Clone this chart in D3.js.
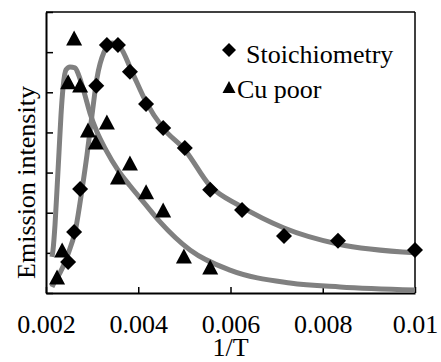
<!DOCTYPE html>
<html>
<head>
<meta charset="utf-8">
<script src="https://cdn.jsdelivr.net/npm/d3@7"></script>
<style>
  body { margin: 0; background: #fff; }
  svg text { font-family: "Liberation Serif", Tinos, "Times New Roman", Times, serif; fill: #000; }
</style>
</head>
<body>
<div id="chart"></div>
<script>
// measured points, x = 1/T
const stoichX = [0.00248, 0.00261, 0.00274, 0.00309, 0.00332, 0.00356, 0.00382, 0.00417, 0.00454, 0.00501, 0.00556, 0.00625, 0.00716, 0.00833, 0.01];
const stoichY = [0.77, 1.52, 2.59, 5.16, 6.18, 6.18, 5.51, 4.71, 4.11, 3.61, 2.57, 2.07, 1.42, 1.30, 1.07];

const cuPoorX = [0.00224, 0.00235, 0.00248, 0.00261, 0.00274, 0.00291, 0.00308, 0.00332, 0.00356, 0.00382, 0.00417, 0.00454, 0.00499, 0.00556];
const cuPoorY = [0.40, 1.07, 5.26, 6.35, 5.18, 4.06, 3.76, 4.26, 2.89, 3.24, 2.52, 2.07, 0.92, 0.65];

// fitted curves (grey lines)
const stoichFitX = [0.00213, 0.002195, 0.002304, 0.002455, 0.00265, 0.00278, 0.002889, 0.002997, 0.003106, 0.003257, 0.00343, 0.003604, 0.003864, 0.004168, 0.004537, 0.005014, 0.005556, 0.006206, 0.00716, 0.00833, 0.01];
const stoichFitY = [0.15, 0.30, 0.50, 0.90, 1.64, 2.57, 3.44, 4.43, 5.36, 6.00, 6.23, 6.13, 5.51, 4.76, 4.11, 3.56, 2.67, 2.17, 1.62, 1.22, 1.00];

const cuPoorFitX = [0.00213, 0.002152, 0.002195, 0.002238, 0.002282, 0.002325, 0.002369, 0.002434, 0.00252, 0.002629, 0.002715, 0.002824, 0.002954, 0.003106, 0.003301, 0.003561, 0.003821, 0.004146, 0.004472, 0.005122, 0.005989, 0.00729, 0.008374, 0.01];
const cuPoorFitY = [0.90, 1.07, 1.69, 2.57, 3.51, 4.43, 5.11, 5.56, 5.63, 5.61, 5.41, 5.01, 4.48, 4.01, 3.56, 3.06, 2.67, 2.22, 1.77, 1.07, 0.57, 0.25, 0.15, 0.075];

const xTicks = [0.002, 0.004, 0.006, 0.008, 0.01];
const xTickLabels = ["0.002", "0.004", "0.006", "0.008", "0.01"];
const yTicks = [0, 1, 2, 3, 4, 5, 6, 7];
const legendLabels = ["Stoichiometry", "Cu poor"];

const serif = '"Liberation Serif", Tinos, "Times New Roman", Times, serif';
const fontSize = 26;
const width = 441, height = 362;
const margin = { top: 12, right: 26, bottom: 69, left: 46 };

const svg = d3.select('#chart').append('svg')
  .attr('width', width)
  .attr('height', height);

const x = d3.scaleLinear().domain([0.002, 0.01]).range([margin.left, width - margin.right]);
const y = d3.scaleLinear().domain([0, 7]).range([height - margin.bottom, margin.top]);

// frame top / right
svg.append('line')
  .attr('x1', x(0.002)).attr('x2', x(0.01))
  .attr('y1', y(7)).attr('y2', y(7))
  .attr('stroke', '#000').attr('stroke-width', 1.5);
svg.append('line')
  .attr('x1', x(0.01)).attr('x2', x(0.01))
  .attr('y1', y(7)).attr('y2', y(0))
  .attr('stroke', '#000').attr('stroke-width', 1.5);

// axes
const xAxis = svg.append('g')
  .attr('transform', `translate(0,${y(0)})`)
  .call(d3.axisBottom(x)
    .tickValues(xTicks)
    .tickSizeInner(-6)
    .tickSizeOuter(0)
    .tickPadding(22)
    .tickFormat((d, i) => xTickLabels[i]));
xAxis.attr('font-family', serif).attr('font-size', fontSize);
xAxis.select('.domain').attr('stroke-width', 2);
xAxis.selectAll('.tick line').attr('stroke-width', 1.5);

const yAxis = svg.append('g')
  .attr('transform', `translate(${x(0.002)},0)`)
  .call(d3.axisLeft(y)
    .tickValues(yTicks)
    .tickSizeInner(-7)
    .tickSizeOuter(0)
    .tickFormat(''));
yAxis.select('.domain').attr('stroke-width', 2);
yAxis.selectAll('.tick line').attr('stroke-width', 1.5);

// axis titles
svg.append('text')
  .attr('x', x(0.006))
  .attr('y', 356)
  .attr('text-anchor', 'middle')
  .attr('font-family', serif)
  .attr('font-size', fontSize)
  .text('1/T');

svg.append('text')
  .attr('transform', `translate(35,${(85 + 280) / 2}) rotate(-90)`)
  .attr('text-anchor', 'middle')
  .attr('font-family', serif)
  .attr('font-size', fontSize)
  .text('Emission intensity');

// fitted curves
const line = d3.line()
  .x(d => x(d[0]))
  .y(d => y(d[1]))
  .curve(d3.curveMonotoneX);

const fits = [
  d3.zip(stoichFitX, stoichFitY),
  d3.zip(cuPoorFitX, cuPoorFitY)
];

svg.append('g').selectAll('path.fit')
  .data(fits)
  .enter().append('path')
  .attr('class', 'fit')
  .attr('d', line)
  .attr('fill', 'none')
  .attr('stroke', '#808080')
  .attr('stroke-width', 5);

// markers
const diamond = (r) => `M0,${-r}L${r},0L0,${r}L${-r},0Z`;
const triangle = (w, h) => `M0,${-h / 2}L${w / 2},${h / 2}L${-w / 2},${h / 2}Z`;

svg.append('g').selectAll('path.stoich')
  .data(d3.zip(stoichX, stoichY))
  .enter().append('path')
  .attr('class', 'stoich')
  .attr('transform', d => `translate(${x(d[0])},${y(d[1])})`)
  .attr('d', diamond(8))
  .attr('fill', '#000');

svg.append('g').selectAll('path.cupoor')
  .data(d3.zip(cuPoorX, cuPoorY))
  .enter().append('path')
  .attr('class', 'cupoor')
  .attr('transform', d => `translate(${x(d[0])},${y(d[1])})`)
  .attr('d', triangle(16, 15))
  .attr('fill', '#000');

// legend
const legend = svg.append('g')
  .attr('font-family', serif)
  .attr('font-size', fontSize);
legend.append('path')
  .attr('transform', 'translate(229,50)')
  .attr('d', diamond(7))
  .attr('fill', '#000');
legend.append('text')
  .attr('x', 246).attr('y', 63)
  .text(legendLabels[0]);
legend.append('path')
  .attr('transform', 'translate(229,87)')
  .attr('d', triangle(13, 12))
  .attr('fill', '#000');
legend.append('text')
  .attr('x', 237).attr('y', 98)
  .text(legendLabels[1]);
</script>
</body>
</html>
